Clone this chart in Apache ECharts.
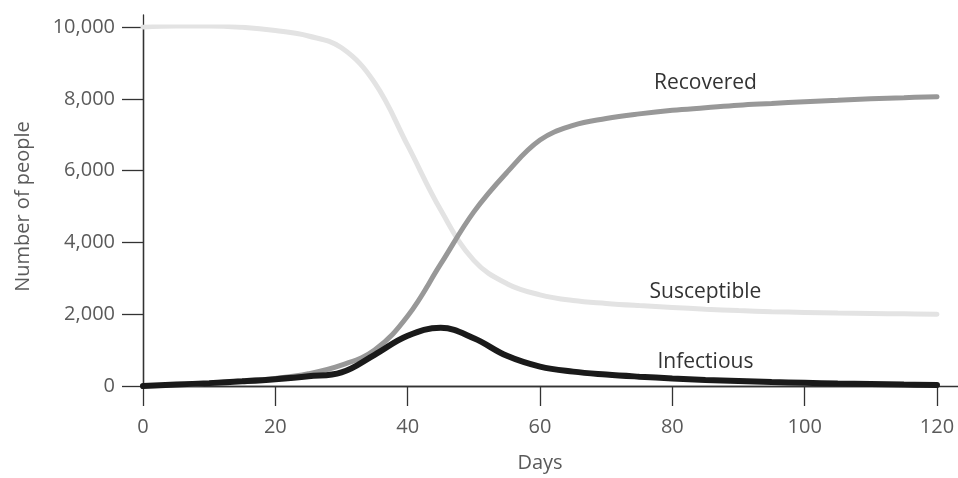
<!DOCTYPE html>
<html>
<head>
<meta charset="utf-8">
<title>SIR model</title>
<script src="https://cdn.jsdelivr.net/npm/echarts@6/dist/echarts.min.js"></script>
<style>
  html, body { margin: 0; padding: 0; background: #fff; }
  #main { width: 958px; height: 478px; }
</style>
</head>
<body>
<div id="main"></div>
<script>
// days on the x axis
var days = [0, 5, 10, 15, 20, 25, 30, 35, 40, 45, 50, 55, 60, 65, 70, 75, 80, 85, 90, 95, 100, 105, 110, 115, 120];

// number of people per group
var susceptible = [10000, 10030, 10030, 9990, 9900, 9750, 9420, 8450, 6700, 4900, 3500, 2850, 2540, 2380, 2300, 2240, 2190, 2140, 2100, 2070, 2050, 2030, 2020, 2010, 2000];
var recovered = [0, 30, 80, 140, 210, 340, 580, 1000, 1950, 3400, 4850, 5950, 6850, 7260, 7450, 7580, 7680, 7750, 7820, 7870, 7920, 7960, 8000, 8030, 8060];
var infectious = [0, 40, 80, 130, 190, 270, 380, 870, 1400, 1620, 1330, 840, 540, 400, 320, 260, 210, 170, 140, 110, 90, 70, 55, 40, 30];

// where the curve names sit, in data units [day, people]
var labelRecovered = [85, 8430];
var labelSusceptible = [85, 2620];
var labelInfectious = [85, 670];

var axisColor = '#333';
var tickText = '#5a5a5a';
var font = '"Open Sans", "Noto Sans", sans-serif';

function pairs(ys) {
  return days.map(function (d, i) { return [d, ys[i]]; });
}

function nameMark(coord, text) {
  return {
    silent: true,
    symbol: 'rect',
    symbolSize: 1,
    itemStyle: { color: 'rgba(0,0,0,0)' },
    label: {
      show: true,
      position: 'inside',
      formatter: text,
      color: '#333',
      fontSize: 21,
      fontFamily: font
    },
    data: [{ coord: coord }]
  };
}

var chart = echarts.init(document.getElementById('main'));

var option = {
  animation: false,
  grid: [
    { left: 143, right: 21, top: 27, bottom: 92 },
    // only used to draw the longer axis lines
    { left: 143, right: 0, top: 15, bottom: 92 }
  ],
  xAxis: [
    {
      type: 'value',
      gridIndex: 0,
      min: 0,
      max: 120,
      interval: 20,
      name: 'Days',
      nameLocation: 'middle',
      nameGap: 67,
      nameTextStyle: { color: tickText, fontSize: 20, fontFamily: font },
      axisLine: { show: true, lineStyle: { color: axisColor, width: 1.3 } },
      axisTick: { show: true, length: 20, lineStyle: { color: axisColor, width: 1.3 } },
      axisLabel: { margin: 31, color: tickText, fontSize: 20, fontFamily: font },
      splitLine: { show: false }
    },
    {
      type: 'value',
      gridIndex: 1,
      min: 0,
      max: 1,
      axisLine: { show: true, lineStyle: { color: axisColor, width: 1.3 } },
      axisTick: { show: false },
      axisLabel: { show: false },
      splitLine: { show: false }
    }
  ],
  yAxis: [
    {
      type: 'value',
      gridIndex: 0,
      min: 0,
      max: 10000,
      interval: 2000,
      name: 'Number of people',
      nameLocation: 'middle',
      nameGap: 110,
      nameTextStyle: { color: tickText, fontSize: 20, fontFamily: font },
      axisLine: { show: true, lineStyle: { color: axisColor, width: 1.3 } },
      axisTick: { show: true, length: 21, lineStyle: { color: axisColor, width: 1.3 } },
      axisLabel: {
        margin: 28,
        color: tickText,
        fontSize: 20,
        fontFamily: font,
        formatter: function (v) { return v.toLocaleString('en-US'); }
      },
      splitLine: { show: false }
    },
    {
      type: 'value',
      gridIndex: 1,
      min: 0,
      max: 1,
      axisLine: { show: true, lineStyle: { color: axisColor, width: 1.3 } },
      axisTick: { show: false },
      axisLabel: { show: false },
      splitLine: { show: false }
    }
  ],
  series: [
    {
      name: 'Susceptible',
      type: 'line',
      xAxisIndex: 0,
      yAxisIndex: 0,
      smooth: 0.4,
      showSymbol: false,
      lineStyle: { color: '#e3e3e3', width: 5, cap: 'round' },
      data: pairs(susceptible),
      markPoint: nameMark(labelSusceptible, 'Susceptible')
    },
    {
      name: 'Recovered',
      type: 'line',
      xAxisIndex: 0,
      yAxisIndex: 0,
      smooth: 0.4,
      showSymbol: false,
      lineStyle: { color: '#989898', width: 5, cap: 'round' },
      data: pairs(recovered),
      markPoint: nameMark(labelRecovered, 'Recovered')
    },
    {
      name: 'Infectious',
      type: 'line',
      xAxisIndex: 0,
      yAxisIndex: 0,
      smooth: 0.4,
      showSymbol: false,
      lineStyle: { color: '#1a1a1a', width: 6, cap: 'round' },
      data: pairs(infectious),
      markPoint: nameMark(labelInfectious, 'Infectious')
    }
  ]
};

chart.setOption(option);
</script>
</body>
</html>
